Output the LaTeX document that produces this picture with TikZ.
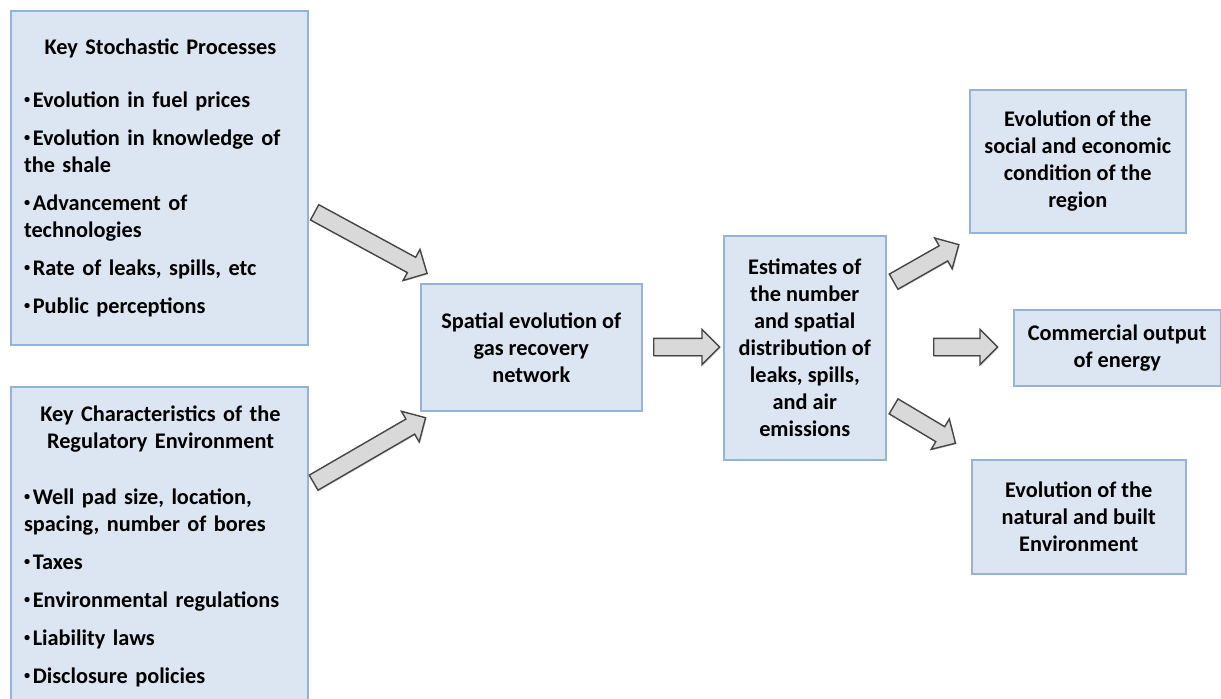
\documentclass[tikz,border=0pt]{standalone}
\usepackage{fontspec}
\setmainfont{Carlito}
\usepackage{xcolor}
\usetikzlibrary{shapes.arrows}
\usetikzlibrary{shadows}
\usetikzlibrary{positioning}
\definecolor{boxfill}{RGB}{220,230,242}
\definecolor{boxline}{RGB}{149,179,215}
\definecolor{arrowfill}{RGB}{217,217,217}
\definecolor{arrowline}{RGB}{70,70,70}
\newcommand{\itembullet}{\raisebox{0.3ex}{\fontsize{7pt}{7pt}\selectfont•}\kern1.5pt}
\tikzset{
  panel/.style={draw=boxline, fill=boxfill, line width=0.9pt, anchor=north west, inner sep=0pt, align=center},
  panelfont/.style={font=\fontsize{12.7pt}{15.37pt}\selectfont\bfseries},
  blockarrow/.style={single arrow, draw=arrowline, fill=arrowfill, line width=0.8pt, anchor=tail,
    inner sep=0.16cm, minimum width=0.68cm, single arrow head extend=0.18cm,
    drop shadow={shadow xshift=0.6pt, shadow yshift=-0.6pt, opacity=0.3}}
}

\begin{document}
\begin{tikzpicture}[x=0.02cm, y=-0.02cm]
  \clip (0,0) rectangle (1221,698);
  \fill[white] (0,0) rectangle (1221,698);
  % left column
  \node[panel, minimum width=5.94cm, minimum height=6.68cm] (stoch) at (10,10) {};
  \node[panel, minimum width=5.94cm, minimum height=6.8cm] (reg) at (10,386) {};
  \node[panelfont, text width=5.46cm, inner sep=0pt, anchor=north] (stochtext) at (160.5,38) {%
    \setlength{\parindent}{0pt}\setlength{\parskip}{0.22cm}%
    {\centering Key Stochastic Processes\par}
    \vspace{0.3cm}\raggedright
    \itembullet Evolution in fuel prices\par
    \itembullet Evolution in knowledge of\\the shale\par
    \itembullet Advancement of\\technologies\par
    \itembullet Rate of leaks, spills, etc\par
    \itembullet Public perceptions\par};
  \node[panelfont, text width=5.46cm, inner sep=0pt, anchor=north] (regtext) at (160.5,405) {%
    \setlength{\parindent}{0pt}\setlength{\parskip}{0.22cm}%
    {\centering Key Characteristics of the\\Regulatory Environment\par}
    \vspace{0.36cm}\raggedright
    \itembullet Well pad size, location,\\spacing, number of bores\par
    \itembullet Taxes\par
    \itembullet Environmental regulations\par
    \itembullet Liability laws\par
    \itembullet Disclosure policies\par};
  % middle
  \node[panel, panelfont, minimum width=4.42cm, minimum height=2.54cm] (spatial) at (420,283)
    {Spatial evolution of\\gas recovery\\network};
  \node[panel, panelfont, minimum width=3.24cm, minimum height=4.48cm] (estim) at (723,235)
    {Estimates of\\the number\\and spatial\\distribution of\\leaks, spills,\\and air\\emissions};
  % right column
  \node[panel, panelfont, minimum width=4.32cm, minimum height=2.86cm] (social) at (969,89)
    {Evolution of the\\social and economic\\condition of the\\region};
  \node[panel, panelfont, minimum width=4.14cm, minimum height=1.52cm] (output) at (1013,309)
    {Commercial output\\of energy};
  \node[panel, panelfont, minimum width=4.28cm, minimum height=2.28cm] (natural) at (971,459)
    {Evolution of the\\natural and built\\Environment};
  % block arrows
  \node[blockarrow, rotate=-28.5, minimum height=2.56cm] (a1) at (314,212) {};
  \node[blockarrow, rotate=30.1, minimum height=2.59cm] (a2) at (313,483) {};
  \node[blockarrow, minimum height=1.32cm] (a3) at (653,347) {};
  \node[blockarrow, rotate=29.6, minimum height=1.5cm] (a4) at (893,282) {};
  \node[blockarrow, minimum height=1.28cm] (a5) at (933,347) {};
  \node[blockarrow, rotate=-30.8, minimum height=1.44cm] (a6) at (893,406) {};
\end{tikzpicture}
\end{document}
